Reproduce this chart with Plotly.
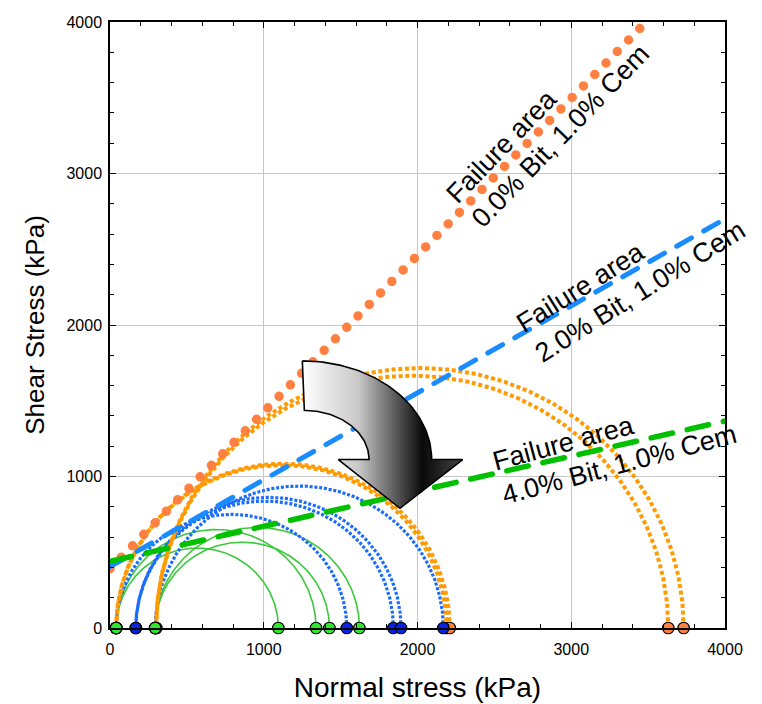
import numpy as np
import plotly.graph_objects as go

# ---------------- data (kPa) ----------------
# Mohr circles: minor principal stress (sigma3) and major principal stress (sigma1)
orange_s3 = [40, 40, 300, 300]          # 0.0% Bit, 1.0% Cem
orange_s1 = [2190, 2210, 3631, 3731]
blue_s3 = [40, 168, 168, 294]           # 2.0% Bit, 1.0% Cem
blue_s1 = [1540, 1843, 1893, 2168]
green_s3 = [40, 40, 294, 294]           # 4.0% Bit, 1.0% Cem
green_s1 = [1095, 1340, 1427, 1622]

# failure envelopes (end points of each straight line)
env_orange_x = [0, 3505]
env_orange_y = [391, 4018]
env_blue_x = [0, 4000]
env_blue_y = [405, 2700]
env_green_x = [0, 4000]
env_green_y = [440, 1366]

labels = ["Failure area<br>0.0% Bit, 1.0% Cem",
          "Failure area<br>2.0% Bit, 1.0% Cem",
          "Failure area<br>4.0% Bit, 1.0% Cem"]
label_x = [2849, 3389, 3285]
label_y = [3330, 2320, 1190]
label_angle = [-46, -32, -15]

x_ticks = [0, 1000, 2000, 3000, 4000]
y_ticks = [0, 1000, 2000, 3000, 4000]

# decorative curved arrow (outer / inner quarter ellipses + head), axis units
arrow_outer = dict(cx=1251, cy=1112, rx=841, ry=651)
arrow_inner = dict(cx=1264, cy=1112, rx=421, ry=324)
arrow_head_x = [2294, 1886, 1485]
arrow_head_y = [1112, 790, 1112]

FONT = "Liberation Sans, Arial, sans-serif"


def mohr(s3_list, s1_list, n=241):
    xs, ys = [], []
    t = np.linspace(0, np.pi, n)
    for s3, s1 in zip(s3_list, s1_list):
        c = (s3 + s1) / 2.0
        r = (s1 - s3) / 2.0
        xs += list(c + r * np.cos(t)) + [None]
        ys += list(r * np.sin(t)) + [None]
    return xs, ys


fig = go.Figure()

# circles
for s3, s1, col, w, dash in [
    (green_s3, green_s1, "#3cc83c", 1.6, "solid"),
    (blue_s3, blue_s1, "#1a6cff", 3.2, "3px,1.8px"),
    (orange_s3, orange_s1, "#ff9a00", 4, "4px,2.7px"),
]:
    xs, ys = mohr(s3, s1)
    fig.add_trace(go.Scatter(x=xs, y=ys, mode="lines",
                             line=dict(color=col, width=w, dash=dash),
                             hoverinfo="skip", showlegend=False))

# envelopes
fig.add_trace(go.Scatter(x=env_orange_x, y=env_orange_y, mode="lines",
                         line=dict(color="#ff8040", width=9.5, dash="0px,16.1px"),
                         hoverinfo="skip", showlegend=False))
fig.add_trace(go.Scatter(x=env_blue_x, y=env_blue_y, mode="lines",
                         line=dict(color="#1a8cff", width=5, dash="17px,14px"),
                         hoverinfo="skip", showlegend=False))
fig.add_trace(go.Scatter(x=env_green_x, y=env_green_y, mode="lines",
                         line=dict(color="#00c000", width=5.5, dash="22px,15px"),
                         hoverinfo="skip", showlegend=False))

# end-point markers on the normal-stress axis
for s3, s1, col in [(orange_s3, orange_s1, "#ff8040"),
                    (blue_s3, blue_s1, "#0a22e6"),
                    (green_s3, green_s1, "#2ee82e")]:
    pts = list(s3) + list(s1)
    fig.add_trace(go.Scatter(x=pts, y=[0] * len(pts), mode="markers",
                             marker=dict(color=col, size=11.5,
                                         line=dict(color="black", width=1.2)),
                             cliponaxis=False, hoverinfo="skip", showlegend=False))

# curved arrow
t = np.linspace(0, np.pi / 2, 60)
ox = arrow_outer["cx"] + arrow_outer["rx"] * np.sin(t)
oy = arrow_outer["cy"] + arrow_outer["ry"] * np.cos(t)
ix = arrow_inner["cx"] + arrow_inner["rx"] * np.sin(t[::-1])
iy = arrow_inner["cy"] + arrow_inner["ry"] * np.cos(t[::-1])
ax_ = list(ox) + arrow_head_x + list(ix) + [ox[0]]
ay_ = list(oy) + arrow_head_y + list(iy) + [oy[0]]
fig.add_trace(go.Scatter(x=ax_, y=ay_, mode="lines", fill="toself",
                         line=dict(color="black", width=1.6),
                         fillgradient=dict(type="horizontal",
                                           colorscale=[[0, "#ffffff"], [0.35, "#c8c8c8"],
                                                       [0.75, "#0a0a0a"], [1, "#444444"]]),
                         hoverinfo="skip", showlegend=False))

for txt, x, y, a in zip(labels, label_x, label_y, label_angle):
    fig.add_annotation(x=x, y=y, text=txt, textangle=a, showarrow=False,
                       align="left", font=dict(family=FONT, size=27, color="black"))

axis_common = dict(
    range=[0, 4000], showgrid=True, gridcolor="#c8c8c8", gridwidth=1,
    showline=True, linecolor="black", linewidth=1.5, mirror="ticks",
    ticks="inside", ticklen=6, tickwidth=1, tickcolor="black",
    minor=dict(dtick=200, ticks="inside", ticklen=4, tickwidth=1,
               tickcolor="black", showgrid=False),
    zeroline=False, tickfont=dict(family=FONT, size=16, color="black"),
    ticklabeloverflow="allow",
)
fig.update_xaxes(**axis_common, tickvals=x_ticks, ticklabelstandoff=6,
                 title=dict(text="Normal stress (kPa)", standoff=20,
                            font=dict(family=FONT, size=28, color="black")))
fig.update_yaxes(**axis_common, tickvals=y_ticks, ticklabelstandoff=3,
                 title=dict(text="Shear Stress (kPa)", standoff=14,
                            font=dict(family=FONT, size=26, color="black")))

fig.update_layout(width=754, height=696,
                  margin=dict(l=102, r=37, t=6, b=76),
                  paper_bgcolor="white", plot_bgcolor="white",
                  showlegend=False)

post = """
var gd = document.getElementById('{plot_id}');
function fixCaps(){
  var tr = gd.querySelectorAll('.scatterlayer .trace');
  [3,4,5].forEach(function(i){
    if(!tr[i]) return;
    var p = tr[i].querySelectorAll('path.js-line');
    p.forEach(function(e){ e.style.strokeLinecap = 'round'; });
  });
}
fixCaps();
gd.on('plotly_afterplot', fixCaps);
"""
fig.write_html("out.html", post_script=post)
